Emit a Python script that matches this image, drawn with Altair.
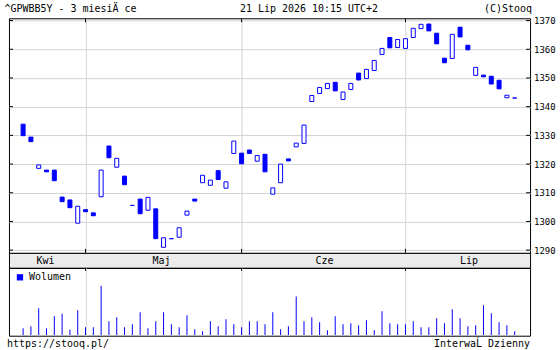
import altair as alt
import numpy as np
import pandas as pd

FONT = "DejaVu Sans Mono"
BLUE = "#0000ff"
GRID = "#d3d3d3"
BAND = "#ececec"

title_text = "^GPWBB5Y - 3 miesiÄ ce"
date_text = "21 Lip 2026 10:15 UTC+2"
copyright_text = "(C)Stooq"
url_text = "https://stooq.pl/"
interval_text = "InterwaĹ Dzienny"
legend_label = "Wolumen"

# daily sessions 21 Apr 2026 .. 21 Jul 2026 (64 sessions)
opens = [1333.9, 1329.4, 1318.5, 1317.9, 1317.9, 1308.5, 1307.5, 1299.4,
         1304.1, 1303.0, 1308.6, 1326.3, 1318.9, 1315.8, 1305.6, 1307.8,
         1303.9, 1304.4, 1291.0, 1294.0, 1294.5, 1302.2, 1307.8, 1313.5,
         1312.6, 1317.7, 1311.6, 1323.7, 1323.8, 1324.9, 1321.0, 1323.4,
         1309.5, 1313.5, 1321.8, 1326.0, 1327.2, 1341.8, 1344.6, 1346.3,
         1348.5, 1342.5, 1346.0, 1351.7, 1349.8, 1352.6, 1358.2, 1364.1,
         1360.6, 1360.3, 1364.1, 1367.2, 1368.8, 1365.6, 1356.9, 1356.8,
         1367.7, 1361.4, 1350.9, 1351.0, 1350.6, 1349.2, 1343.1, 1343.0]
closes = [1329.9, 1327.8, 1319.7, 1317.3, 1314.2, 1306.9, 1304.8, 1305.3,
          1303.4, 1302.0, 1317.9, 1322.2, 1322.0, 1312.8, 1305.6, 1302.7,
          1308.4, 1294.0, 1294.3, 1294.0, 1297.8, 1303.6, 1307.1, 1316.1,
          1314.4, 1314.6, 1313.8, 1328.0, 1320.1, 1323.7, 1323.0, 1317.3,
          1311.7, 1320.0, 1321.1, 1327.3, 1333.6, 1343.9, 1346.7, 1348.1,
          1345.5, 1345.1, 1348.1, 1349.3, 1353.0, 1356.1, 1360.3, 1360.5,
          1363.4, 1363.7, 1367.3, 1368.7, 1366.4, 1361.9, 1355.3, 1365.2,
          1364.3, 1359.8, 1353.7, 1350.4, 1347.9, 1346.2, 1344.0, 1343.0]
volumes = [6.7, 8.7, 26.7, 6.7, 18.7, 21.3, 5.3, 24.7,
           7.7, 7.7, 49.3, 13.7, 17.7, 7.7, 10.7, 22.7,
           6.7, 13.7, 22.7, 10.7, 7.7, 19.7, 5.7, 3.7,
           13.7, 8.7, 15.7, 10.7, 7.7, 13.7, 13.7, 10.7,
           22.7, 5.7, 8.7, 38.7, 13.7, 17.7, 12.7, 4.7,
           18.7, 10.7, 11.7, 9.7, 14.7, 4.7, 23.7, 11.7,
           10.7, 10.7, 13.7, 7.7, 7.7, 16.7, 11.7, 25.7,
           16.7, 8.7, 9.7, 29.7, 21.7, 12.7, 9.7, 3.7]
month_names = ["Kwi", "Maj", "Cze", "Lip"]
month_starts = [8, 28, 49]
price_ticks = [1290, 1300, 1310, 1320, 1330, 1340, 1350, 1360, 1370]

X_DOMAIN = [-1.17, 64.33]
P_DOMAIN = [1289.06, 1370.8]
V_DOMAIN = [-0.7, 67.3]
W, H_MAIN, H_BAND, H_VOL = 522, 235, 15, 68

n = len(opens)
df = pd.DataFrame({"i": np.arange(n), "open": opens, "close": closes,
                   "volume": volumes, "series": legend_label})
df["fill"] = np.where(df["close"] < df["open"], BLUE, "white")

edges = [X_DOMAIN[0]] + month_starts + [X_DOMAIN[1]]
months = pd.DataFrame({"name": month_names,
                       "mid": [(edges[k] + edges[k + 1]) / 2 for k in range(len(month_names))]})
starts = pd.DataFrame({"i": month_starts})
ticks = pd.DataFrame({"p": price_ticks})

xs = alt.Scale(domain=X_DOMAIN, nice=False, zero=False)
ys = alt.Scale(domain=P_DOMAIN, nice=False, zero=False)
vs = alt.Scale(domain=V_DOMAIN, nice=False, zero=False)

x_axis = alt.Axis(values=month_starts, grid=True, gridColor=GRID, gridWidth=1,
                  labels=False, ticks=False, domain=False, title=None)
y_axis = alt.Axis(orient="right", values=price_ticks, grid=True, gridColor=GRID, gridWidth=1,
                  ticks=False, domain=False, labelPadding=3.5, labelFont=FONT, format="d",
                  labelFontSize=9, labelColor="black", title=None)


def one(text):
    return alt.Data(values=[{"t": text}])


def label(text, x, y, align="left"):
    return alt.Chart(one(text)).mark_text(
        font=FONT, fontSize=10, align=align, baseline="alphabetic", color="black"
    ).encode(text="t:N", x=alt.value(x), y=alt.value(y))


# invisible helper that fixes the page extent to 560x350
canvas = alt.Chart(alt.Data(values=[{}])).mark_rect(opacity=0).encode(
    x=alt.value(-8.5), x2=alt.value(551.5), y=alt.value(-17.5), y2=alt.value(332.5))

candles = alt.Chart(df).mark_bar(size=4, stroke=BLUE, strokeWidth=1).encode(
    x=alt.X("i:Q", scale=xs, axis=x_axis),
    y=alt.Y("open:Q", scale=ys, axis=y_axis),
    y2="close:Q",
    fill=alt.Fill("fill:N", scale=None),
)

left_ticks = alt.Chart(ticks).mark_rule(color="black").encode(
    y=alt.Y("p:Q", scale=ys, axis=y_axis), x=alt.value(0), x2=alt.value(4))
right_ticks = alt.Chart(ticks).mark_rule(color="black").encode(
    y=alt.Y("p:Q", scale=ys, axis=y_axis), x=alt.value(W - 4), x2=alt.value(W))
top_ticks = alt.Chart(starts).mark_rule(color="black").encode(
    x=alt.X("i:Q", scale=xs, axis=x_axis), y=alt.value(0), y2=alt.value(4))
bot_ticks = alt.Chart(starts).mark_rule(color="black").encode(
    x=alt.X("i:Q", scale=xs, axis=x_axis), y=alt.value(H_MAIN - 4), y2=alt.value(H_MAIN))

main = alt.layer(
    canvas, candles, left_ticks, right_ticks, top_ticks, bot_ticks,
    label(title_text, -4.5, -6.5),
    label(date_text, 231.5, -6.5),
    label(copyright_text, 524, -6.5, "right"),
).properties(width=W, height=H_MAIN)

band = alt.Chart(months).mark_text(
    font=FONT, fontSize=10, baseline="alphabetic", color="black"
).encode(
    x=alt.X("mid:Q", scale=xs, axis=None), y=alt.value(10.8), text="name:N"
).properties(width=W, height=H_BAND, view=alt.ViewBackground(fill=BAND, stroke="black"))

# the legend of a concatenated chart is placed in the top-level frame
vol_top = H_MAIN + H_BAND
vol_bars = alt.Chart(df).mark_bar(size=1).encode(
    x=alt.X("i:Q", scale=xs, axis=x_axis),
    y=alt.Y("volume:Q", scale=vs, axis=None),
    y2=alt.datum(0),
    color=alt.Color("series:N", scale=alt.Scale(domain=[legend_label], range=[BLUE]),
                    legend=alt.Legend(orient="none", legendX=6, legendY=vol_top + 4.5, title=None,
                                      symbolType="square", symbolSize=40, symbolStrokeWidth=0,
                                      labelFont=FONT, labelFontSize=10, labelColor="black",
                                      labelOffset=4, padding=0)),
)
vol_ticks = alt.Chart(starts).mark_rule(color="black").encode(
    x=alt.X("i:Q", scale=xs, axis=x_axis), y=alt.value(0), y2=alt.value(3))

vol = alt.layer(
    vol_bars, vol_ticks,
    label(url_text, -2, 79.5),
    label(interval_text, 522, 79.5, "right"),
).properties(width=W, height=H_VOL)

chart = alt.vconcat(main, band, vol, spacing=0, bounds="flush").properties(
    padding=0, autosize=alt.AutoSizeParams(type="pad")
).configure_view(stroke="black", strokeWidth=1)

chart.save("out.html", embed_options={"renderer": "svg", "actions": False})
